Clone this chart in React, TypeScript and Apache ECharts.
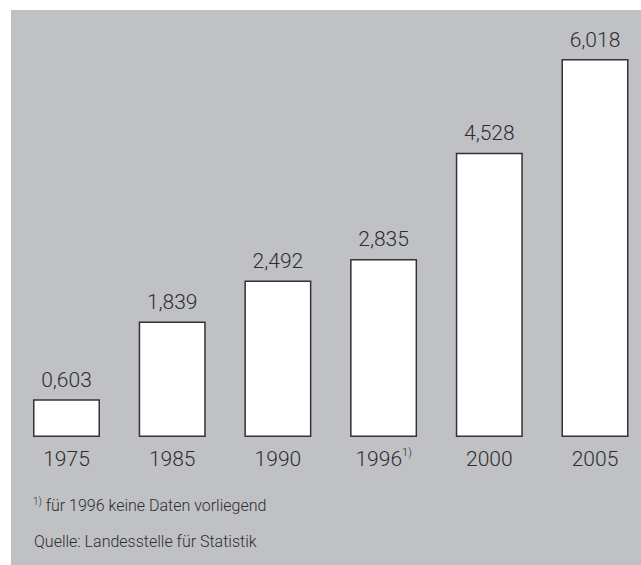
import React, { useEffect, useRef } from "react";
import * as echarts from "echarts";

const categories = ["1975", "1985", "1990", "1996", "2000", "2005"];
const values = [0.603, 1.839, 2.492, 2.835, 4.528, 6.018];
const footnoteCategory = "1996";
const footnoteText = "für 1996 keine Daten vorliegend";
const sourceText = "Quelle: Landesstelle für Statistik";

const FONT = "Roboto, 'Noto Sans', sans-serif";
const TEXT = "#2e2e2e";

export default function App() {
  const ref = useRef<HTMLDivElement>(null);
  useEffect(() => {
    if (!ref.current) return;
    const chart = echarts.init(ref.current, undefined, { renderer: "svg" });
    chart.setOption({
      animation: false,
      backgroundColor: "#ffffff",
      textStyle: { fontFamily: FONT },
      grid: { left: 66.5, right: 46, top: 10, height: 427 },
      xAxis: {
        type: "category",
        data: categories,
        boundaryGap: false,
        axisLine: { show: false },
        axisTick: { show: false },
        axisLabel: {
          interval: 0,
          margin: 10,
          fontSize: 21,
          fontWeight: 300,
          color: TEXT,
          fontFamily: FONT,
          formatter: (v: string) => (v === footnoteCategory ? `{n|${v}}{s|1)}` : `{n|${v}}`),
          rich: {
            n: { fontSize: 21, fontWeight: 300, color: TEXT, fontFamily: FONT, lineHeight: 24 },
            s: { fontSize: 11, fontWeight: 300, color: TEXT, fontFamily: FONT, verticalAlign: "top", lineHeight: 24 },
          },
        },
      },
      yAxis: {
        type: "value",
        min: 0,
        max: 6.8,
        show: false,
        splitLine: { show: false },
      },
      series: [
        {
          type: "bar",
          data: values,
          barWidth: 67,
          itemStyle: { color: "#ffffff", borderColor: "#333333", borderWidth: 1.5 },
          label: {
            show: true,
            position: "top",
            distance: 9,
            fontSize: 21,
            fontWeight: 300,
            color: TEXT,
            fontFamily: FONT,
            formatter: (p: any) => p.value.toFixed(3).replace(".", ","),
          },
        },
      ],
      graphic: {
        elements: [
          {
            type: "rect",
            z: -100,
            silent: true,
            shape: { x: 11, y: 10, width: 640, height: 560 },
            style: { fill: "#c0c1c5" },
          },
          {
            type: "text",
            left: 33,
            top: 496,
            style: {
              text: `{s|1)}{t| ${footnoteText}}`,
              rich: {
                s: { fontSize: 10, fontWeight: 300, fill: TEXT, fontFamily: FONT, verticalAlign: "top", lineHeight: 19 },
                t: { fontSize: 16, fontWeight: 300, fill: TEXT, fontFamily: FONT, lineHeight: 19 },
              },
            },
          },
          {
            type: "text",
            left: 34,
            top: 533,
            style: { text: sourceText, fontSize: 16, fontWeight: 300, fill: TEXT, fontFamily: FONT },
          },
        ],
      },
    });
    return () => chart.dispose();
  }, []);
  return <div ref={ref} style={{ position: "fixed", left: 0, top: 0, width: 641, height: 565 }} />;
}
